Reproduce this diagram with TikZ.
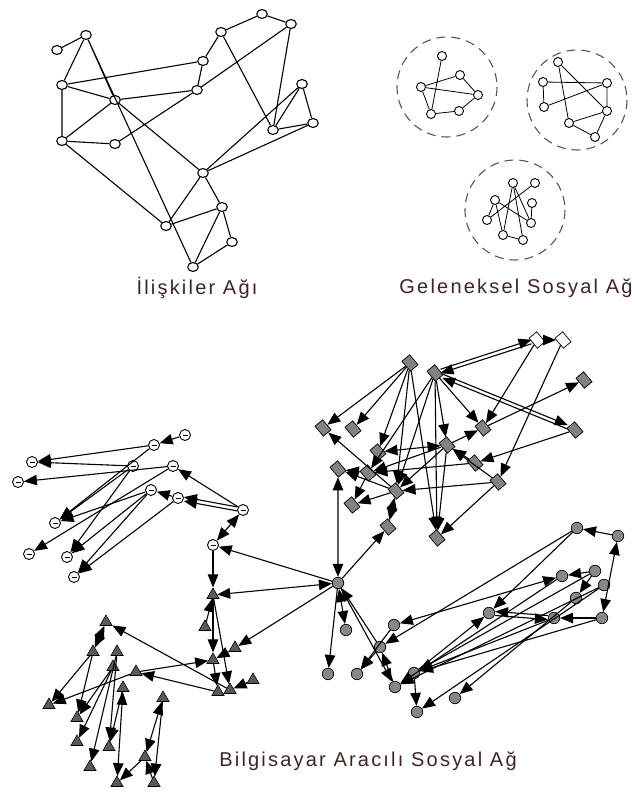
\documentclass[tikz,border=0pt]{standalone}
\usepackage{fontspec}
\newfontfamily\lblfont[LetterSpace=11]{Liberation Sans}
\usetikzlibrary{shapes.geometric,arrows.meta}
\definecolor{lblcol}{RGB}{62,36,36}
\definecolor{dmdgray}{RGB}{130,130,130}
\definecolor{cirgray}{RGB}{135,135,135}
\definecolor{trigray}{RGB}{90,90,90}
\definecolor{ringgray}{RGB}{85,85,85}

\tikzset{
  onode/.style={ellipse,draw,fill=white,line width=1.1pt,minimum width=10.5pt,minimum height=9pt,inner sep=0pt},
  snode/.style={circle,draw,fill=white,line width=0.9pt,minimum size=9pt,inner sep=0pt},
  ring/.style={draw=ringgray,line width=1.1pt,dash pattern=on 9pt off 6pt},
  lnk/.style={line width=1.1pt},
  slnk/.style={line width=0.8pt},
  arr/.style={line width=1.1pt,-{Triangle[length=13pt,width=10.5pt]}},
  barr/.style={line width=1.1pt,{Triangle[length=13pt,width=10.5pt]}-{Triangle[length=13pt,width=10.5pt]}},
  dmd/.style={rectangle,draw,fill=dmdgray,line width=0.7pt,minimum width=10pt,minimum height=13pt,inner sep=0pt,rotate=40},
  wdmd/.style={dmd,fill=white},
  gcir/.style={circle,draw,fill=cirgray,line width=0.7pt,minimum size=11.5pt,inner sep=0pt},
  wcir/.style={circle,draw,fill=white,line width=0.9pt,minimum size=11pt,inner sep=0pt,
    path picture={\draw[line width=0.8pt] ([xshift=-2.5pt,yshift=-0.5pt]path picture bounding box.center) -- ([xshift=2.5pt,yshift=-0.5pt]path picture bounding box.center);}},
  tri/.style={regular polygon,regular polygon sides=3,draw,fill=trigray,line width=0.6pt,minimum size=14pt,inner sep=0pt},
  lbl/.style={text=lblcol,font=\lblfont\fontsize{20}{24}\selectfont}
}

\begin{document}
\begin{tikzpicture}[x=1pt,y=-1pt]
  \useasboundingbox (0,0) rectangle (634,797);
  %%%%% iliskiler agi %%%%%
  \node[onode] (rA) at (57,50) {};
  \node[onode] (rB) at (86,35) {};
  \node[onode] (rC) at (62,85) {};
  \node[onode] (rD) at (115,100) {};
  \node[onode] (rE) at (62,141) {};
  \node[onode] (rF) at (115,144) {};
  \node[onode] (rG) at (203,61) {};
  \node[onode] (rH) at (197,90) {};
  \node[onode] (rI) at (221,32) {};
  \node[onode] (rJ) at (262,14) {};
  \node[onode] (rK) at (291,24) {};
  \node[onode] (rL) at (302,84) {};
  \node[onode] (rM) at (313,123) {};
  \node[onode] (rN) at (273,130) {};
  \node[onode] (rO) at (203,173) {};
  \node[onode] (rP) at (222,207) {};
  \node[onode] (rQ) at (232,242) {};
  \node[onode] (rR) at (166,226) {};
  \node[onode] (rS) at (193,267) {};
  \draw[lnk] (rA) -- (rB) (rB) -- (rC) (rB) -- (rD) (rB) -- (rS) (rC) -- (rG) (rC) -- (rD)
    (rC) -- (rE) (rD) -- (rH) (rD) -- (rO) (rE) -- (rD) (rE) -- (rF) (rE) -- (rR)
    (rF) -- (rH) (rG) -- (rH) (rG) -- (rI) (rI) -- (rJ) (rJ) -- (rK) (rH) -- (rK)
    (rI) -- (rN) (rK) -- (rN) (rN) -- (rL) (rL) -- (rM) (rM) -- (rN) (rO) -- (rL)
    (rO) -- (rM) (rO) -- (rR) (rO) -- (rP) (rR) -- (rP) (rP) -- (rQ) (rP) -- (rS) (rQ) -- (rS);

  %%%%% geleneksel sosyal ag %%%%%
  \draw[ring] (447,87) circle[radius=50];
  \draw[ring] (577,100) circle[radius=50];
  \draw[ring] (515,210) circle[radius=50];
  \node[snode] (pa) at (442,56) {};
  \node[snode] (pb) at (460,75) {};
  \node[snode] (pc) at (421,87) {};
  \node[snode] (pd) at (478,95) {};
  \node[snode] (pe) at (431,114) {};
  \node[snode] (pf) at (459,111) {};
  \draw[slnk] (pa) -- (pe) (pc) -- (pb) (pc) -- (pd) (pc) -- (pe) (pb) -- (pd) (pe) -- (pf) (pf) -- (pd);
  \node[snode] (qa) at (558,62) {};
  \node[snode] (qb) at (543,82) {};
  \node[snode] (qc) at (607,83) {};
  \node[snode] (qd) at (544,107) {};
  \node[snode] (qe) at (607,111) {};
  \node[snode] (qf) at (569,123) {};
  \node[snode] (qg) at (595,137) {};
  \draw[slnk] (qb) -- (qc) (qb) -- (qd) (qd) -- (qc) (qa) -- (qf) (qa) -- (qe) (qc) -- (qe)
    (qe) -- (qf) (qe) -- (qg) (qf) -- (qg);
  \node[snode] (sa) at (513,183) {};
  \node[snode] (sb) at (535,183) {};
  \node[snode] (sc) at (495,200) {};
  \node[snode] (sd) at (532,203) {};
  \node[snode] (se) at (487,220) {};
  \node[snode] (sf) at (531,223) {};
  \node[snode] (sg) at (503,235) {};
  \node[snode] (sh) at (523,240) {};
  \draw[slnk] (sa) -- (sg) (sa) -- (sh) (sb) -- (se) (sc) -- (se) (sc) -- (sf) (sc) -- (sg)
    (sg) -- (sh) (sd) -- (sf) (sa) -- (sf);

  \node[lbl] (lblrel) at (197,288) {İlişkiler Ağı};
  \node[lbl] (lbltrad) at (516,288) {Geleneksel Sosyal Ağ};

  %%%%% bilgisayar aracili sosyal ag %%%%%
  % diamonds
  \node[wdmd] (w1) at (537,340) {};
  \node[wdmd] (w2) at (563,340) {};
  \node[dmd] (d1) at (410,363) {};
  \node[dmd] (d2) at (435,373) {};
  \node[dmd] (d3) at (584,380) {};
  \node[dmd] (d4) at (323,428) {};
  \node[dmd] (d5) at (353,429) {};
  \node[dmd] (d6) at (483,428) {};
  \node[dmd] (d7) at (575,430) {};
  \node[dmd] (d8) at (378,452) {};
  \node[dmd] (d9) at (447,445) {};
  \node[dmd] (d10) at (475,463) {};
  \node[dmd] (d11) at (338,469) {};
  \node[dmd] (d12) at (368,473) {};
  \node[dmd] (d13) at (498,482) {};
  \node[dmd] (d14) at (396,491) {};
  \node[dmd] (d15) at (352,505) {};
  \node[dmd] (d16) at (388,527) {};
  \node[dmd] (d17) at (437,538) {};
  % right circles
  \node[gcir] (hub) at (338,583) {};
  \node[gcir] (m1) at (577,528) {};
  \node[gcir] (m2) at (618,536) {};
  \node[gcir] (m3) at (562,576) {};
  \node[gcir] (m4) at (595,571) {};
  \node[gcir] (m5) at (604,585) {};
  \node[gcir] (m6) at (576,598) {};
  \node[gcir] (m7) at (489,613) {};
  \node[gcir] (m8) at (554,618) {};
  \node[gcir] (m9) at (602,618) {};
  \node[gcir] (m10) at (394,625) {};
  \node[gcir] (m12) at (346,630) {};
  \node[gcir] (m13) at (380,647) {};
  \node[gcir] (m14) at (328,674) {};
  \node[gcir] (m15) at (357,674) {};
  \node[gcir] (m16) at (414,673) {};
  \node[gcir] (m17) at (395,687) {};
  \node[gcir] (m18) at (455,698) {};
  \node[gcir] (m19) at (417,712) {};
  % left circles
  \node[wcir] (c1) at (154,445) {};
  \node[wcir] (c2) at (185,435) {};
  \node[wcir] (c3) at (32,462) {};
  \node[wcir] (c4) at (133,466) {};
  \node[wcir] (c5) at (173,466) {};
  \node[wcir] (c6) at (18,482) {};
  \node[wcir] (c7) at (151,490) {};
  \node[wcir] (c8) at (178,498) {};
  \node[wcir] (c9) at (243,510) {};
  \node[wcir] (c10) at (55,523) {};
  \node[wcir] (c11) at (213,545) {};
  \node[wcir] (c12) at (29,554) {};
  \node[wcir] (c13) at (67,557) {};
  \node[wcir] (c14) at (74,577) {};
  % triangles
  \node[tri] (t1) at (213,595) {};
  \node[tri] (t2) at (205,627) {};
  \node[tri] (t3) at (235,648) {};
  \node[tri] (t4) at (213,660) {};
  \node[tri] (t5) at (230,690) {};
  \node[tri] (t6) at (218,692) {};
  \node[tri] (t7) at (253,680) {};
  \node[tri] (ta) at (106,622) {};
  \node[tri] (tb) at (93,652) {};
  \node[tri] (tc) at (117,652) {};
  \node[tri] (ti) at (113,667) {};
  \node[tri] (td) at (136,672) {};
  \node[tri] (te) at (123,688) {};
  \node[tri] (tf) at (49,705) {};
  \node[tri] (tg) at (163,698) {};
  \node[tri] (th) at (77,718) {};
  \node[tri] (tj) at (77,742) {};
  \node[tri] (tk) at (109,747) {};
  \node[tri] (tl) at (90,767) {};
  \node[tri] (tm) at (145,757) {};
  \node[tri] (tn) at (117,783) {};
  \node[tri] (to) at (154,783) {};

  % diamond links
  \draw[arr,transform canvas={yshift=2pt}] (d2) -- (w1);
  \draw[arr,transform canvas={yshift=-2pt}] (w1) -- (d2);
  \draw[arr,transform canvas={yshift=2pt}] (d2) -- (d7);
  \draw[arr,transform canvas={yshift=-2pt}] (d7) -- (d2);
  \draw[arr] (w1) -- (w2);
  \draw[arr] (w1) -- (d6);
  \draw[arr] (d6) -- (d3);
  \draw[arr] (w2) -- (d13);
  \draw[arr] (d2) -- (d6);
  \draw[arr] (d7) -- (d10);
  \draw[arr] (d9) -- (d6);
  \draw[arr] (d13) -- (d9);
  \draw[arr] (d13) -- (d14);
  \draw[barr] (d8) -- (d9);
  \draw[arr] (d1) -- (d4);
  \draw[arr] (d1) -- (d5);
  \draw[arr] (d1) -- (d8);
  \draw[arr] (d1) -- (d14);
  \draw[arr] (d1) -- (d17);
  \draw[arr] (d2) -- (d9);
  \draw[arr] (d2) -- (d17);
  \draw[arr] (d2) -- (d14);
  \draw[arr] (d2) -- (d12);
  \draw[arr] (d9) -- (d17);
  \draw[arr] (d13) -- (d17);
  \draw[arr] (d14) -- (d4);
  \draw[arr] (d14) -- (d11);
  \draw[arr] (d12) -- (d11);
  \draw[arr] (d14) -- (d15);
  \draw[arr] (d12) -- (d15);
  \draw[barr] (d14) -- (d16);
  \draw[arr] (d9) -- (d12);
  \draw[arr] (d9) -- (d14);
  \draw[arr] (d10) -- (d12);
  \draw[arr] (d10) -- (d9);
  \draw[barr] (hub) -- (d11);
  \draw[arr] (hub) -- (d16);

  % circle links
  \draw[arr] (m2) -- (m1);
  \draw[barr] (m2) -- (m9);
  \draw[arr] (m1) -- (m7);
  \draw[arr] (m1) -- (m13);
  \draw[barr] (m3) -- (m10);
  \draw[arr] (m4) -- (m3);
  \draw[arr] (m4) -- (m6);
  \draw[arr] (m9) -- (m8);
  \draw[arr,transform canvas={yshift=2pt}] (m8) -- (m7);
  \draw[arr,transform canvas={yshift=-2pt}] (m7) -- (m8);
  \draw[arr] (m9) -- (m16);
  \draw[arr] (m6) -- (m18);
  \draw[arr] (m5) -- (m19);
  \draw[arr] (m16) -- (m7);
  \draw[arr] (m10) -- (m15);
  \draw[arr] (m3) -- (m17);
  \draw[arr] (m8) -- (m16);
  \draw[arr] (m5) -- (m17);
  \draw[arr] (m4) -- (m16);
  \draw[arr] (m17) -- (m13);
  \draw[arr] (m13) -- (hub);
  \draw[arr] (m13) -- (m15);
  \draw[arr] (hub) -- (m17);
  \draw[arr] (hub) -- (m14);
  \draw[barr] (hub) -- (m12);
  \draw[arr] (m16) -- (m19);

  % left circle links
  \draw[arr] (c2) -- (c1);
  \draw[arr] (c1) -- (c3);
  \draw[arr] (c4) -- (c3);
  \draw[arr] (c5) -- (c6);
  \draw[arr] (c1) -- (c10);
  \draw[arr] (c4) -- (c10);
  \draw[arr] (c5) -- (c12);
  \draw[arr] (c7) -- (c10);
  \draw[arr] (c4) -- (c13);
  \draw[arr] (c7) -- (c13);
  \draw[arr] (c7) -- (c14);
  \draw[arr] (c8) -- (c14);
  \draw[arr] (c8) -- (c7);
  \draw[arr,transform canvas={yshift=2pt}] (c9) -- (c8);
  \draw[arr,transform canvas={yshift=-2pt}] (c9) -- (c8);
  \draw[arr] (c9) -- (c5);
  \draw[barr] (c9) -- (c11);
  \draw[arr] (c11) -- (t1);
  \draw[arr] (hub) -- (c11);

  % triangle links
  \draw[barr] (hub) -- (t1);
  \draw[arr] (hub) -- (t3);
  \draw[arr] (t1) -- (t4);
  \draw[arr] (t1) -- (t5);
  \draw[arr] (t2) -- (t1);
  \draw[arr] (t3) -- (t4);
  \draw[arr] (t7) -- (t5);
  \draw[arr] (t4) -- (t6);
  \draw[arr] (td) -- (t4);
  \draw[arr] (t6) -- (td);
  \draw[arr] (t5) -- (ta);
  \draw[barr] (ta) -- (tb);
  \draw[arr] (tb) -- (tf);
  \draw[arr] (td) -- (tf);
  \draw[arr] (tb) -- (th);
  \draw[arr] (tc) -- (tk);
  \draw[arr] (ti) -- (tj);
  \draw[arr] (ti) -- (th);
  \draw[arr] (te) -- (tk);
  \draw[barr] (tg) -- (tm);
  \draw[arr] (tg) -- (to);
  \draw[arr] (tm) -- (tn);
  \draw[barr] (te) -- (tn);
  \draw[arr] (to) -- (tm);
  \draw[arr] (tc) -- (tl);

  \node[lbl] (lblcmc) at (368,761) {Bilgisayar Aracılı Sosyal Ağ};
\end{tikzpicture}
\end{document}
